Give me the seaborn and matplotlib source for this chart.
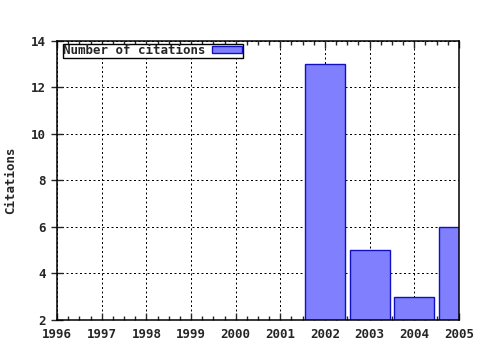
import matplotlib
matplotlib.use("Agg")
import matplotlib.pyplot as plt
import seaborn as sns
import pandas as pd
from matplotlib.ticker import MultipleLocator

years = [1996, 1997, 1998, 1999, 2000, 2001, 2002, 2003, 2004, 2005]
citations = [0, 0, 0, 0, 0, 0, 13, 5, 3, 6]
series_label = "Number of citations"
y_label = "Citations"

sns.set_style("ticks")
plt.rcParams['font.family'] = ['DejaVu Sans Mono']
plt.rcParams['font.weight'] = 'bold'

df = pd.DataFrame({"year": years, "citations": citations})

fig = plt.figure(figsize=(4.8, 3.5), dpi=100)
ax = fig.add_axes([0.119, 0.086, 0.837, 0.797])

sns.barplot(data=df, x="year", y="citations", native_scale=True, width=0.9,
            color="#8080ff", saturation=1, edgecolor="#1010c0", linewidth=1.0,
            label=series_label, ax=ax, zorder=3)

ax.set_xlim(1996, 2005)
ax.set_ylim(2, 14)
ax.xaxis.set_major_locator(MultipleLocator(1))
ax.xaxis.set_minor_locator(MultipleLocator(0.25))
ax.yaxis.set_major_locator(MultipleLocator(2))
ax.set_xticks(years)
ax.set_xticklabels([str(y) for y in years])

ax.grid(True, which='major', color='black', linestyle=(0, (2, 2.5)), linewidth=0.72, zorder=1)
ax.set_axisbelow(True)

for s in ax.spines.values():
    s.set_visible(True)
    s.set_linewidth(1.1)
    s.set_color('black')
    s.set_zorder(5)

ax.tick_params(axis='x', which='major', direction='in', top=True, bottom=True, length=5, width=1, labelsize=9, pad=6)
ax.tick_params(axis='x', which='minor', direction='in', top=True, bottom=True, length=3, width=1)
ax.tick_params(axis='y', which='major', direction='inout', left=True, right=False, length=8, width=1, labelsize=9, pad=4)
for lab in ax.get_xticklabels() + ax.get_yticklabels():
    lab.set_fontweight('bold')

ax.set_xlabel("")
ax.set_ylabel(y_label, fontsize=9, fontweight='bold', labelpad=10)

leg = ax.legend(loc='upper left', bbox_to_anchor=(0.014, 0.99), markerfirst=False, frameon=True,
                fancybox=False, shadow=False, borderpad=0.05, handlelength=2.4,
                handleheight=0.5, handletextpad=0.5, borderaxespad=0.0,
                prop={'family': 'DejaVu Sans Mono', 'weight': 'bold', 'size': 9})
leg.get_frame().set_edgecolor('black')
leg.get_frame().set_linewidth(1.0)
leg.get_frame().set_alpha(1)

fig.savefig("out.png", dpi=100)
